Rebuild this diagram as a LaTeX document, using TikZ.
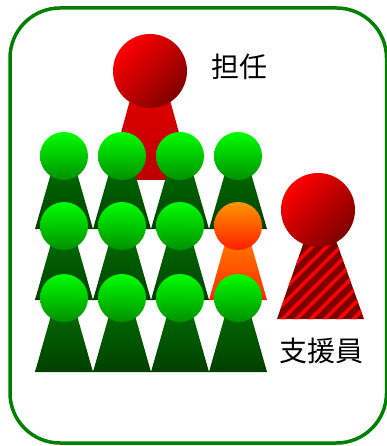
\documentclass[tikz,border=0pt]{standalone}
\usepackage{fontspec}
\newfontfamily\cjk{Noto Sans CJK JP}
\usetikzlibrary{
	patterns.meta	% striped body of the helper
}

\definecolor{framegreen}{RGB}{0,128,0}
\definecolor{headgreen}{RGB}{0,255,0}
\definecolor{headgreendark}{RGB}{0,145,0}
\definecolor{bodygreen}{RGB}{0,115,0}
\definecolor{bodygreendark}{RGB}{0,64,0}
\definecolor{headred}{RGB}{255,0,0}
\definecolor{headreddark}{RGB}{128,0,0}
\definecolor{darkstripe}{RGB}{125,0,0}

\begin{document}
\begin{tikzpicture}[x=1pt, y=-1pt]
			\begin{scope}[
				frame/.style={draw=framegreen, line width=3.5pt, rounded corners=50pt},
				greenhead/.style={top color=headgreen, bottom color=headgreendark},
				greenbody/.style={top color=bodygreen, bottom color=bodygreendark},
				orangehead/.style={top color={rgb,255:red,255;green,150;blue,0}, bottom color={rgb,255:red,255;green,30;blue,0}},
				orangebody/.style={top color={rgb,255:red,255;green,140;blue,0}, bottom color={rgb,255:red,255;green,40;blue,0}},
				redhead/.style={top color=headred, bottom color=headreddark, shading angle=45},
				redbody/.style={top color={rgb,255:red,230;green,0;blue,0}, bottom color={rgb,255:red,190;green,0;blue,0}},
				stripedbody/.style={fill=darkstripe, postaction={pattern={Lines[angle=45, distance=10pt, line width=3.5pt]}, pattern color=red}},
				tag/.style={font=\cjk\fontsize{28}{28}\selectfont, inner sep=0}]

				\useasboundingbox (0, 0) rectangle (386, 446);

				\draw[frame] (10, 8) rectangle (386.5, 443);

				%% Teacher
				\path[redbody] (138, 71) -- (162, 71) -- (192, 180) -- (108, 180) -- cycle;
				\path[redhead] (150, 71) circle (37);

				%% Helper
				\path[stripedbody] (315, 210) -- (325, 210) -- (364, 319) -- (277, 319) -- cycle;
				\path[redhead] (318, 210) circle (37);

				%% Row 1
				\foreach \x in {64, 122, 180, 238} {
				\path[greenbody] (\x - 8, 156) -- (\x + 8, 156) -- (\x + 29, 229) -- (\x - 29, 229) -- cycle;
				\path[greenhead] (\x, 156) circle (24);
				}

				%% Row 2
				\foreach \x in {64, 122, 180} {
				\path[greenbody] (\x - 8, 226) -- (\x + 8, 226) -- (\x + 29, 300) -- (\x - 29, 300) -- cycle;
				\path[greenhead] (\x, 226) circle (24);
				}
				\path[orangebody] (230, 226) -- (246, 226) -- (267, 300) -- (209, 300) -- cycle;
				\path[orangehead] (238, 226) circle (24);

				%% Row 3
				\foreach \x in {64, 122, 180, 238} {
				\path[greenbody] (\x - 8, 298) -- (\x + 8, 298) -- (\x + 29, 372) -- (\x - 29, 372) -- cycle;
				\path[greenhead] (\x, 298) circle (24);
				}

				% Labels
				\node[tag] (teacher) at (239, 67) {担任};
				\node[tag] (helper) at (321, 351) {支援員};
			\end{scope}
\end{tikzpicture}
\end{document}
